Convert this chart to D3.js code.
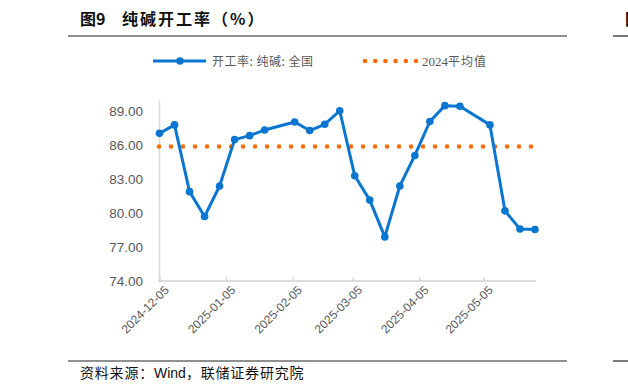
<!DOCTYPE html>
<html>
<head>
<meta charset="utf-8">
<script src="https://cdn.jsdelivr.net/npm/d3@7"></script>
<style>
  body { margin: 0; background: #fff; }
  svg { display: block; }
</style>
</head>
<body>
<div id="chart"></div>
<script>
// weekly operating rate, soda ash, national
const dates = ["2024-12-05", "2024-12-12", "2024-12-19", "2024-12-26", "2025-01-02", "2025-01-09",
    "2025-01-16", "2025-01-23", "2025-02-06", "2025-02-13", "2025-02-20", "2025-02-27",
    "2025-03-06", "2025-03-13", "2025-03-20", "2025-03-27", "2025-04-03", "2025-04-10",
    "2025-04-17", "2025-04-24", "2025-05-08", "2025-05-15", "2025-05-22", "2025-05-29"];
const rates = [87.05, 87.8, 81.9, 79.7, 82.4, 86.5, 86.85, 87.35, 88.05, 87.3, 87.85, 89.05,
    83.3, 81.15, 77.9, 82.4, 85.1, 88.1, 89.5, 89.45, 87.8, 80.2, 78.6, 78.55];
const avg2024 = 85.9;
const yTicks = [74, 77, 80, 83, 86, 89];
const xTicks = ["2024-12-05", "2025-01-05", "2025-02-05", "2025-03-05", "2025-04-05", "2025-05-05"];

const width = 628, height = 391;
const blue = "#0a76cf", orange = "#ff6a00", grey = "#595959";
const cjk = "'Noto Sans CJK SC', sans-serif";

const parse = d3.timeParse("%Y-%m-%d");
const data = dates.map((d, i) => ({date: parse(d), value: rates[i]}));

const svg = d3.select("#chart").append("svg")
    .attr("width", width)
    .attr("height", height)
    .attr("viewBox", [0, 0, width, height]);

// title + rules
const title = svg.append("text")
    .attr("x", 80).attr("y", 25)
    .attr("font-family", cjk)
    .attr("font-weight", "bold")
    .attr("font-size", 16)
    .attr("fill", "#111");
title.append("tspan").text("图9");
title.append("tspan").attr("x", 122).attr("letter-spacing", 2).text("纯碱开工率（%）");

svg.append("line").attr("x1", 68).attr("x2", 567).attr("y1", 36).attr("y2", 36)
    .attr("stroke", "#222").attr("stroke-width", 1.2);
svg.append("line").attr("x1", 613).attr("x2", 628).attr("y1", 36).attr("y2", 36)
    .attr("stroke", "#222").attr("stroke-width", 1.2);
svg.append("text").attr("x", 625).attr("y", 25)
    .attr("font-family", cjk).attr("font-weight", "bold")
    .attr("font-size", 16).attr("fill", "#111").text("图");

svg.append("line").attr("x1", 68).attr("x2", 567).attr("y1", 361).attr("y2", 361)
    .attr("stroke", "#222").attr("stroke-width", 1.2);
svg.append("line").attr("x1", 613).attr("x2", 628).attr("y1", 361).attr("y2", 361)
    .attr("stroke", "#222").attr("stroke-width", 1.2);

const src = svg.append("text")
    .attr("x", 80).attr("y", 378)
    .attr("font-size", 14)
    .attr("fill", "#111");
src.append("tspan").attr("font-family", cjk).attr("letter-spacing", 0.8).text("资料来源：");
src.append("tspan").attr("font-family", "'Liberation Sans', Arial, sans-serif").text("Wind");
src.append("tspan").attr("font-family", cjk).attr("letter-spacing", 0.8).text("，联储证券研究院");

// scales
const x = d3.scaleTime()
    .domain([parse("2024-12-05"), parse("2025-05-29")])
    .range([159.5, 535]);
const y = d3.scaleLinear()
    .domain([74, 90])
    .range([281, 100]);

// y axis
const yAxis = svg.append("g")
    .attr("transform", "translate(159,0)")
    .call(d3.axisLeft(y).tickValues(yTicks).tickFormat(d3.format(".2f")).tickSize(0).tickPadding(16));
yAxis.select(".domain").attr("stroke", "#d9d9d9").attr("stroke-width", 1.5);
yAxis.selectAll("text")
    .attr("font-family", "'Liberation Sans', Arial, sans-serif")
    .attr("font-size", 13.5)
    .attr("fill", grey);

// x axis
const xAxis = svg.append("g")
    .attr("transform", "translate(0,281)")
    .call(d3.axisBottom(x).tickValues(xTicks.map(parse)).tickFormat(d3.timeFormat("%Y-%m-%d")).tickSize(-4).tickPadding(6));
xAxis.select(".domain")
    .attr("d", "M158.5,0H536")
    .attr("stroke", "#d0d0d0").attr("stroke-width", 1.5);
xAxis.selectAll(".tick line").attr("stroke", "#d0d0d0").attr("stroke-width", 1.2);
xAxis.selectAll("text")
    .attr("font-family", "'Liberation Sans', Arial, sans-serif")
    .attr("font-size", 12)
    .attr("fill", grey)
    .attr("text-anchor", "end")
    .attr("dy", "0.3em")
    .attr("transform", "translate(3,3) rotate(-45)");

// 2024 average, dotted
svg.append("line")
    .attr("x1", 159).attr("x2", 536)
    .attr("y1", y(avg2024)).attr("y2", y(avg2024))
    .attr("stroke", orange)
    .attr("stroke-width", 4.5)
    .attr("stroke-linecap", "round")
    .attr("stroke-dasharray", "0 12");

// operating rate line
const line = d3.line().x(d => x(d.date)).y(d => y(d.value));
svg.append("path")
    .datum(data)
    .attr("fill", "none")
    .attr("stroke", blue)
    .attr("stroke-width", 3)
    .attr("stroke-linejoin", "round")
    .attr("d", line);

svg.append("g")
    .selectAll("circle")
    .data(data)
    .join("circle")
        .attr("cx", d => x(d.date))
        .attr("cy", d => y(d.value))
        .attr("r", 3.8)
        .attr("fill", blue);

// legend
const legend = svg.append("g");
legend.append("line").attr("x1", 153).attr("x2", 206).attr("y1", 61).attr("y2", 61)
    .attr("stroke", blue).attr("stroke-width", 3);
legend.append("circle").attr("cx", 180).attr("cy", 61).attr("r", 3.8).attr("fill", blue);
legend.append("text").attr("x", 212).attr("y", 65.5)
    .attr("font-family", cjk).attr("font-size", 12).attr("fill", grey)
    .attr("letter-spacing", 0.5)
    .text("开工率: 纯碱: 全国");

legend.append("line").attr("x1", 365).attr("x2", 417).attr("y1", 61).attr("y2", 61)
    .attr("stroke", orange).attr("stroke-width", 4.5)
    .attr("stroke-linecap", "round").attr("stroke-dasharray", "0 10.2");
const avgLabel = legend.append("text").attr("x", 422).attr("y", 65.5)
    .attr("font-size", 12).attr("fill", grey);
avgLabel.append("tspan").attr("font-family", "'Liberation Serif', serif").attr("font-size", 13).text("2024");
avgLabel.append("tspan").attr("font-family", cjk).attr("letter-spacing", 1).text("平均值");
</script>
</body>
</html>
